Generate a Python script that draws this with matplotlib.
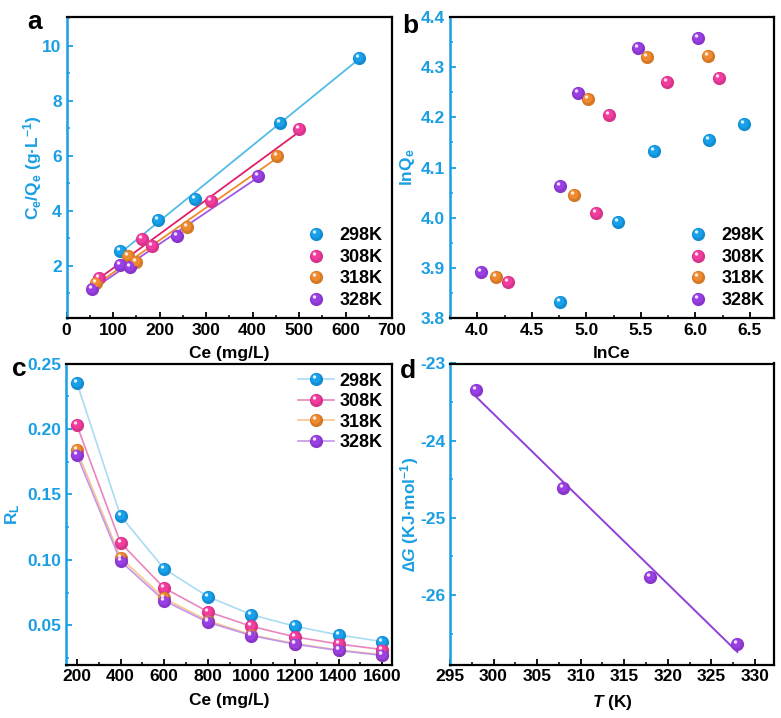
import numpy as np
import matplotlib
matplotlib.use('Agg')
import matplotlib.pyplot as plt
from matplotlib.path import Path
from matplotlib.markers import MarkerStyle
from matplotlib.lines import Line2D
from matplotlib.legend_handler import HandlerTuple
from matplotlib.ticker import MultipleLocator, FormatStrFormatter
import matplotlib.colors as mcolors

plt.rcParams['font.family'] = ['Liberation Sans', 'DejaVu Sans']
plt.rcParams['font.weight'] = 'bold'
plt.rcParams['axes.unicode_minus'] = False
plt.rcParams['mathtext.fontset'] = 'custom'
plt.rcParams['mathtext.rm'] = 'Liberation Sans:bold'
plt.rcParams['mathtext.it'] = 'Liberation Sans:italic:bold'
plt.rcParams['mathtext.bf'] = 'Liberation Sans:bold'
plt.rcParams['mathtext.sf'] = 'Liberation Sans'
plt.rcParams['mathtext.fallback'] = 'stixsans'

# ---------------- data ----------------
labels = ['298K', '308K', '318K', '328K']

# panel a: Langmuir Ce vs Ce/Qe
a_ce_298 = [115.7, 197, 276, 458.5, 628.5]
a_y_298 = [2.55, 3.66, 4.44, 7.21, 9.55]
a_ce_308 = [69, 162, 184, 311, 500]
a_y_308 = [1.54, 2.96, 2.73, 4.36, 6.96]
a_ce_318 = [64, 132, 148.5, 259, 452]
a_y_318 = [1.36, 2.35, 2.15, 3.42, 6.01]
a_ce_328 = [55.7, 115.7, 137, 238, 411]
a_y_328 = [1.16, 2.01, 1.94, 3.10, 5.27]

# panel b: Freundlich lnCe vs lnQe
b_x_298 = [4.758, 5.287, 5.620, 6.127, 6.445]
b_y_298 = [3.831, 3.991, 4.132, 4.154, 4.187]
b_x_308 = [4.284, 5.091, 5.210, 5.742, 6.215]
b_y_308 = [3.871, 4.010, 4.204, 4.271, 4.279]
b_x_318 = [4.168, 4.889, 5.012, 5.555, 6.112]
b_y_318 = [3.881, 4.045, 4.236, 4.320, 4.322]
b_x_328 = [4.037, 4.758, 4.926, 5.470, 6.020]
b_y_328 = [3.892, 4.064, 4.249, 4.338, 4.358]

# panel c: RL vs C0
c_x = [200, 400, 600, 800, 1000, 1200, 1400, 1600]
c_rl_298 = [0.2353, 0.1336, 0.0932, 0.0719, 0.0581, 0.0492, 0.0426, 0.0375]
c_rl_308 = [0.2028, 0.1130, 0.0785, 0.0604, 0.0492, 0.0411, 0.0357, 0.0314]
c_rl_318 = [0.1837, 0.1016, 0.0706, 0.0535, 0.0426, 0.0360, 0.0310, 0.0276]
c_rl_328 = [0.1800, 0.0990, 0.0688, 0.0523, 0.0421, 0.0355, 0.0307, 0.0270]

# panel d: Delta G vs T
d_T = [298, 308, 318, 328]
d_G = [-23.34, -24.61, -25.76, -26.63]

# ---------------- style ----------------
BLUE_AX = '#1a9fe3'
pt_colors = ['#17a0ec', '#f23c9e', '#f08a2e', '#9a3ee6']
a_line_colors = ['#52bce9', '#e01f6c', '#ef8a2d', '#a356e6']
c_line_colors = ['#a9dcf2', '#ea85bd', '#f6c68e', '#c495ea']
D_COLOR = '#9140d8'
MS = 9.5


def circ_marker(cx, cy, r):
    p = Path.circle((cx, cy), r)
    verts = np.vstack([[[1.0, 0.0]], p.vertices])
    codes = np.concatenate([[Path.MOVETO], p.codes])
    return MarkerStyle(Path(verts, codes))


MK_MID = circ_marker(-0.12, 0.18, 0.72)
MK_HI = circ_marker(-0.30, 0.38, 0.26)


def lighten(c, f):
    r = np.array(mcolors.to_rgb(c))
    return tuple(r + (1 - r) * f)


def darken(c, f):
    r = np.array(mcolors.to_rgb(c))
    return tuple(r * (1 - f))


def sphere(ax, x, y, color, zorder=3):
    h1, = ax.plot(x, y, ls='none', marker='o', ms=MS, color=darken(color, 0.12),
                  mec='none', zorder=zorder)
    h2, = ax.plot(x, y, ls='none', marker=MK_MID, ms=MS, color=color,
                  mec='none', zorder=zorder + 0.1)
    h3, = ax.plot(x, y, ls='none', marker=MK_HI, ms=MS, color=lighten(color, 0.85),
                  mec='none', zorder=zorder + 0.2)
    return (h1, h2, h3)


def style(ax, xlim, ylim, xmaj, ymaj, yfmt=None):
    ax.set_xlim(*xlim)
    ax.set_ylim(*ylim)
    ax.xaxis.set_major_locator(MultipleLocator(xmaj))
    ax.xaxis.set_minor_locator(MultipleLocator(xmaj / 2))
    ax.yaxis.set_major_locator(MultipleLocator(ymaj))
    ax.yaxis.set_minor_locator(MultipleLocator(ymaj / 2))
    if yfmt:
        ax.yaxis.set_major_formatter(FormatStrFormatter(yfmt))
    for s in ['top', 'right', 'bottom']:
        ax.spines[s].set_color('black')
        ax.spines[s].set_linewidth(1.6)
    ax.spines['left'].set_color(BLUE_AX)
    ax.spines['left'].set_linewidth(1.8)
    ax.tick_params(axis='both', which='both', direction='in', top=False, right=False)
    ax.tick_params(axis='both', which='major', length=4, width=1.3, labelsize=12.5)
    ax.tick_params(axis='both', which='minor', length=2.5, width=1.1)
    ax.tick_params(axis='y', which='both', color=BLUE_AX, labelcolor=BLUE_AX)
    for t in ax.get_xticklabels() + ax.get_yticklabels():
        t.set_fontweight('bold')


fig = plt.figure(figsize=(7.81, 7.18), dpi=100)
W, H = 781, 718


def axes_px(l, t, r, b):
    return fig.add_axes([l / W, 1 - b / H, (r - l) / W, (b - t) / H])


ax_a = axes_px(66.5, 17, 392, 318)
ax_b = axes_px(450, 17, 774, 318)
ax_c = axes_px(66, 363.5, 392, 664.5)
ax_d = axes_px(450, 363.5, 774, 664.5)

LBL = dict(fontsize=12.5, fontweight='bold')
LEG = dict(frameon=False, handlelength=2.0, handletextpad=0.3, borderaxespad=0.2,
           borderpad=0.3, prop={'weight': 'bold', 'size': 13})

# ---- panel a ----
a_sets = [(a_ce_298, a_y_298), (a_ce_308, a_y_308), (a_ce_318, a_y_318), (a_ce_328, a_y_328)]
handles_a = []
for (xs, ys), pc, lc in zip(a_sets, pt_colors, a_line_colors):
    xs = np.array(xs); ys = np.array(ys)
    k, b = np.polyfit(xs, ys, 1)
    xx = np.array([xs.min(), xs.max()])
    ax_a.plot(xx, k * xx + b, color=lc, lw=1.3, zorder=2)
for (xs, ys), pc in zip(a_sets, pt_colors):
    handles_a.append(sphere(ax_a, xs, ys, pc))
style(ax_a, (0, 700), (0.1, 11.05), 100, 2)
ax_a.set_xlabel('Ce (mg/L)', **LBL, labelpad=6)
ax_a.set_ylabel(r'C$_\mathregular{e}$/Q$_\mathregular{e}$ (g·L$^\mathregular{-1}$)',
                color=BLUE_AX, **LBL, labelpad=-1)
ax_a.legend(handles_a, labels, handler_map={tuple: HandlerTuple(ndivide=1)},
            loc='lower right', labelspacing=0.25, **LEG)

# ---- panel b ----
b_sets = [(b_x_298, b_y_298), (b_x_308, b_y_308), (b_x_318, b_y_318), (b_x_328, b_y_328)]
handles_b = []
for (xs, ys), pc in zip(b_sets, pt_colors):
    handles_b.append(sphere(ax_b, xs, ys, pc))
style(ax_b, (3.75, 6.72), (3.8, 4.4), 0.5, 0.1, '%.1f')
ax_b.xaxis.set_major_formatter(FormatStrFormatter('%.1f'))
ax_b.set_xlabel('lnCe', **LBL, labelpad=6)
ax_b.set_ylabel(r'lnQ$_\mathregular{e}$', color=BLUE_AX, **LBL, labelpad=3)
ax_b.legend(handles_b, labels, handler_map={tuple: HandlerTuple(ndivide=1)},
            loc='lower right', labelspacing=0.25, **LEG)

# ---- panel c ----
c_sets = [c_rl_298, c_rl_308, c_rl_318, c_rl_328]
handles_c = []
for ys, lc in zip(c_sets, c_line_colors):
    ax_c.plot(c_x, ys, color=lc, lw=1.2, zorder=2)
for ys, pc, lc in zip(c_sets, pt_colors, c_line_colors):
    hs = sphere(ax_c, c_x, ys, pc)
    ln = Line2D([], [], color=lc, lw=1.2)
    handles_c.append((ln,) + hs)
style(ax_c, (150, 1645), (0.02, 0.25), 200, 0.05, '%.2f')
ax_c.set_xlabel('Ce (mg/L)', **LBL, labelpad=6)
ax_c.set_ylabel(r'R$_\mathregular{L}$', color=BLUE_AX, **LBL, labelpad=4)
ax_c.legend(handles_c, labels, handler_map={tuple: HandlerTuple(ndivide=1)},
            loc='upper right', labelspacing=0.2, **LEG)

# ---- panel d ----
T = np.array(d_T, float); G = np.array(d_G, float)
k, b = np.polyfit(T, G, 1)
TT = np.array([T.min(), T.max()])
ax_d.plot(TT, k * TT + b, color=D_COLOR, lw=1.4, zorder=2)
sphere(ax_d, T, G, pt_colors[3])
style(ax_d, (295, 332.2), (-26.9, -23), 5, 1)
ax_d.yaxis.set_minor_locator(MultipleLocator(0.5))
ax_d.set_xlabel(r'$\mathit{T}$ (K)', **LBL, labelpad=6)
ax_d.set_ylabel(r'$\mathsf{∆}\mathit{G}$ (KJ·mol$^\mathregular{-1}$)', color=BLUE_AX,
                **LBL, labelpad=-1)

# panel letters
for txt, x, y in [('a', 27, 29), ('b', 402, 33), ('c', 12, 376), ('d', 400, 378)]:
    fig.text(x / W, 1 - y / H, txt, fontsize=19, fontweight='bold', ha='left',
             va='baseline', color='black')

fig.savefig('out.png', dpi=100)
